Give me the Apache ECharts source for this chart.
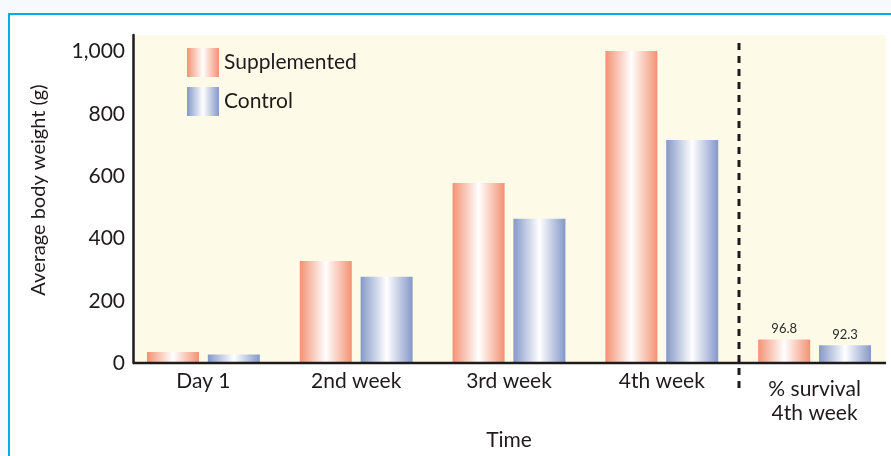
<!DOCTYPE html>
<html>
<head>
<meta charset="utf-8">
<script src="https://cdn.jsdelivr.net/npm/echarts@6/dist/echarts.min.js"></script>
<style>
  html, body { margin: 0; padding: 0; width: 891px; height: 456px; overflow: hidden; background: #f6fafc; }
  #frame { position: absolute; left: 8px; top: 13px; width: 900px; height: 500px; background: #ffffff;
           border-top: 2px solid #00aeef; border-left: 2px solid #00aeef; }
  #chart { position: absolute; left: 0; top: 0; width: 891px; height: 456px; }
</style>
</head>
<body>
<div id="frame"></div>
<div id="chart"></div>
<script>
// ---- data ----
const categories = ['Day 1', '2nd week', '3rd week', '4th week', '% survival\n4th week'];
const seriesNames = ['Supplemented', 'Control'];
const supplemented = [36, 328, 578, 1002, 76];   // last value: drawn survival bar height
const control = [28, 277, 463, 716, 57];
const survivalPct = [96.8, 92.3];                // labels shown above survival bars
const yTicks = [0, 200, 400, 600, 800, 1000];

// ---- styling ----
const ink = '#1f1b1c';
const font = 'Lato, "Open Sans", sans-serif';
function grad(edge) {
  return new echarts.graphic.LinearGradient(0, 0, 1, 0, [
    { offset: 0, color: edge },
    { offset: 0.5, color: '#ffffff' },
    { offset: 1, color: edge }
  ]);
}
const colors = [grad('#f39273'), grad('#8598c8')];

function buildData(values, pct) {
  return values.map((v, i) => i === categories.length - 1
    ? { value: v, label: { show: true, formatter: String(pct) } }
    : v);
}

const chart = echarts.init(document.getElementById('chart'), null, { renderer: 'canvas' });
const option = {
  animation: false,
  backgroundColor: 'transparent',
  textStyle: { fontFamily: font, color: ink },
  legend: {
    data: seriesNames, orient: 'vertical', left: 187, top: 48, padding: 0,
    itemWidth: 32, itemHeight: 29, itemGap: 10, icon: 'rect',
    textStyle: { fontSize: 21, color: ink, fontFamily: font }
  },
  grid: { left: 127, width: 765, top: 35, bottom: 87, containLabel: false },
  xAxis: {
    type: 'category',
    data: categories.map((c, i) => i === categories.length - 1
      ? { value: c, textStyle: { padding: [8, 0, 0, 0] } } : c),
    axisLine: { show: false },
    axisTick: { show: false },
    axisLabel: { fontSize: 21, color: ink, margin: 6, lineHeight: 24, fontFamily: font, interval: 0 },
    name: 'Time', nameLocation: 'middle', nameGap: 59,
    nameTextStyle: { fontSize: 21, color: ink, fontFamily: font }
  },
  yAxis: {
    type: 'value', min: 0, max: 1053, interval: 200, offset: -6,
    axisLine: { show: true, lineStyle: { color: ink, width: 2.5 } },
    axisTick: { show: false },
    splitLine: { show: false },
    axisLabel: {
      fontSize: 21, color: ink, margin: 8, fontFamily: font, showMaxLabel: false,
      padding: [0, 0, 6, 0],
      formatter: v => yTicks.includes(v) ? v.toLocaleString('en-US') : ''
    },
    name: 'Average body weight (g)', nameLocation: 'middle', nameGap: 84, nameRotate: 90,
    nameTextStyle: { fontSize: 20, color: ink, fontFamily: font, padding: [0, 0, 0, 18] }
  },
  series: [
    {
      name: seriesNames[0], type: 'bar', barWidth: 52, barGap: '17%',
      itemStyle: { color: colors[0] },
      label: { show: false, position: 'top', distance: 4, fontSize: 13, color: '#2a2a2a', fontFamily: font },
      data: buildData(supplemented, survivalPct[0])
    },
    {
      name: seriesNames[1], type: 'bar', barWidth: 52, barGap: '17%',
      itemStyle: { color: colors[1] },
      label: { show: false, position: 'top', distance: 4, fontSize: 13, color: '#2a2a2a', fontFamily: font },
      data: buildData(control, survivalPct[1])
    }
  ]
};
chart.setOption(option);

// decorations placed through the chart's own scales
const x3 = chart.convertToPixel({ xAxisIndex: 0 }, 3);
const x4 = chart.convertToPixel({ xAxisIndex: 0 }, 4);
const y0 = chart.convertToPixel({ yAxisIndex: 0 }, 0);
const yTop = chart.convertToPixel({ yAxisIndex: 0 }, 1053);
const xLeft = 133, xRight = 886;
const sepX = Math.round((x3 + x4) / 2) + 1;
chart.setOption({
  graphic: [
    { type: 'rect', z: -10, silent: true,
      shape: { x: xLeft + 1, y: yTop, width: xRight - xLeft - 1, height: y0 - yTop },
      style: { fill: '#fefae8' } },
    { type: 'line', z: 10, silent: true,
      shape: { x1: xLeft, y1: y0, x2: xRight, y2: y0 },
      style: { stroke: ink, lineWidth: 2.5 } },
    { type: 'line', z: 10, silent: true,
      shape: { x1: sepX, y1: yTop + 8, x2: sepX, y2: y0 + 29 },
      style: { stroke: ink, lineWidth: 3, lineDash: [7, 6] } }
  ]
});
</script>
</body>
</html>
